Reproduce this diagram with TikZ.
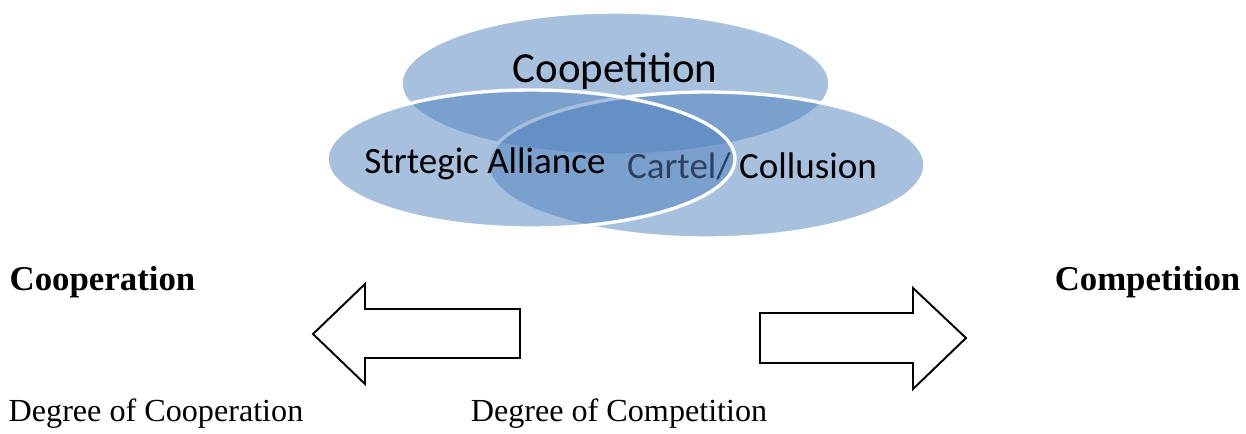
\documentclass[tikz,border=0pt]{standalone}
\usepackage{fontspec}
\setmainfont{Liberation Serif}
\newfontfamily\calib{Carlito}
\usetikzlibrary{shapes.geometric,positioning}
\definecolor{venn}{RGB}{79,129,189}
\definecolor{cartel}{RGB}{45,65,95}

\begin{document}
\begin{tikzpicture}[x=0.02cm,y=-0.02cm,
	blob/.style={ellipse,fill=venn,fill opacity=0.5,draw=white,line width=1.9pt,inner sep=0pt,outer sep=0pt},
	vlabel/.style={font=\calib\fontsize{21.1}{25}\selectfont,anchor=base,inner sep=0pt},
	side/.style={font=\bfseries\fontsize{19.8}{23}\selectfont,anchor=base,inner sep=0pt},
	degree/.style={font=\fontsize{18.3}{22}\selectfont,anchor=base,inner sep=0pt},
	bigarrow/.style={draw=black,line width=1.1pt,line join=miter,fill=white}]
		\useasboundingbox (0,0) rectangle (1246,433);
		% the three overlapping fields
		\node[blob,minimum width=8.58cm,minimum height=2.86cm] (coop) at (615.5,83.5) {};
		\node[blob,minimum width=8.74cm,minimum height=2.92cm] (cartel) at (706.5,165) {};
		\node[blob,minimum width=8.16cm,minimum height=2.76cm] (alliance) at (531,159) {};

		\node[vlabel,font=\calib\fontsize{24.4}{28}\selectfont] (coopname) at (615,82) {Coopetition};
		\node[vlabel] (alliname) at (485,173) {Strtegic Alliance};
		\node[vlabel] (cartname) at (752,178) {\textcolor{cartel}{Cartel/} Collusion};

		% the two ends of the scale
		\node[side] (cooperation) at (102.5,290) {Cooperation};
		\node[side] (competition) at (1147.5,290) {Competition};

		\draw[bigarrow] (313,334) -- (365,284) -- (365,309) -- (520,309) -- (520,358) -- (365,358) -- (365,384) -- cycle;
		\draw[bigarrow] (966,338) -- (913,288) -- (913,313) -- (760,313) -- (760,363) -- (913,363) -- (913,389) -- cycle;

		\node[degree] (degcoop) at (156,421) {Degree of Cooperation};
		\node[degree] (degcomp) at (619,421) {Degree of Competition};
\end{tikzpicture}
\end{document}
